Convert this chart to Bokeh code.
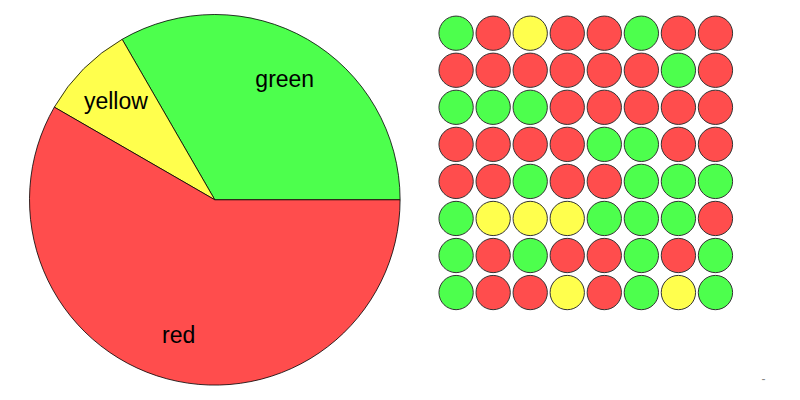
import numpy as np
from bokeh.plotting import figure
from bokeh.models import ColumnDataSource
from bokeh.core.properties import value
from bokeh.embed import file_html
from bokeh.resources import INLINE

# Pie data
categories = ["green", "yellow", "red"]
pie_values = [4, 1, 7]
colors = {"green": "#4dff4d", "yellow": "#ffff4d", "red": "#ff4d4d"}

# Grid of dots (8 x 8), row by row from top
grid_rows = [
    ["green", "red", "yellow", "red", "red", "green", "red", "red"],
    ["red", "red", "red", "red", "red", "red", "green", "red"],
    ["green", "green", "green", "red", "red", "red", "red", "red"],
    ["red", "red", "red", "red", "green", "green", "red", "red"],
    ["red", "red", "green", "red", "red", "green", "green", "green"],
    ["green", "yellow", "yellow", "yellow", "green", "green", "green", "red"],
    ["green", "red", "green", "red", "red", "green", "red", "green"],
    ["green", "red", "red", "yellow", "red", "green", "yellow", "green"],
]

W, H = 800, 400
p = figure(width=W, height=H, x_range=(0, W), y_range=(0, H),
           output_backend="svg", toolbar_location=None,
           x_axis_location=None, y_axis_location=None,
           min_border=0, outline_line_color=None)
p.xgrid.visible = False
p.ygrid.visible = False

# Pie
cx, cy, R = 214.3, H - 199.3, 185.3
vals = np.array(pie_values, dtype=float)
ends = np.cumsum(vals) / vals.sum() * 2 * np.pi
starts = np.concatenate([[0], ends[:-1]])
mids = (starts + ends) / 2
pie_src = ColumnDataSource(dict(
    start=starts, end=ends, color=[colors[c] for c in categories],
    lx=cx + 0.755 * R * np.cos(mids), ly=cy + 0.755 * R * np.sin(mids),
    label=categories,
))
p.wedge(x=cx, y=cy, radius=R, start_angle="start", end_angle="end",
        direction="anticlock", fill_color="color", line_color="black",
        line_width=0.8, source=pie_src)
p.text(x="lx", y="ly", text="label", source=pie_src,
       text_font=value("Liberation Sans"), text_font_size="23px",
       text_align="center", text_baseline="middle", text_color="black")

# Dot grid
x0, y0, step, r = 455.6, 32.7, 37.05, 17.15
gx, gy, gc = [], [], []
for i, row in enumerate(grid_rows):
    for j, c in enumerate(row):
        gx.append(x0 + j * step)
        gy.append(H - (y0 + i * step))
        gc.append(colors[c])
p.circle(x=gx, y=gy, radius=r, fill_color=gc, line_color="#333333",
         line_width=1)

# small dash mark
p.text(x=[763], y=[H - 377.5], text=["-"], text_font=value("Liberation Sans"),
       text_font_size="12px", text_align="center", text_baseline="middle",
       text_color="#888888")

open("out.html", "w").write(file_html(p, INLINE))
